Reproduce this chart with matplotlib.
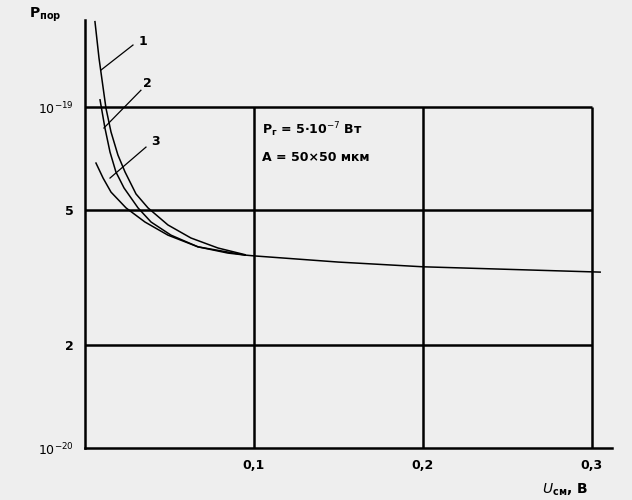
import matplotlib
matplotlib.use("Agg")
import matplotlib.pyplot as plt

# curves (U in V, P in W)
curve1_u = [0.0059, 0.0083, 0.0124, 0.0154, 0.0195, 0.0237, 0.0302,
            0.0373, 0.0491, 0.0627, 0.0787, 0.0947]
curve1_p = [1.78e-19, 1.39e-19, 9.93e-20, 8.45e-20, 7.23e-20, 6.45e-20, 5.56e-20,
            5.06e-20, 4.51e-20, 4.13e-20, 3.86e-20, 3.69e-20]
curve2_u = [0.0089, 0.0118, 0.0148, 0.0183, 0.0231, 0.0314, 0.0391, 0.0509,
            0.0669, 0.0846, 0.0947]
curve2_p = [1.05e-19, 8.68e-20, 7.38e-20, 6.45e-20, 5.79e-20, 5.06e-20, 4.60e-20, 4.21e-20,
            3.89e-20, 3.73e-20, 3.68e-20]
curve3_u = [0.0065, 0.0107, 0.0154, 0.0243, 0.0355, 0.0491, 0.0669, 0.0947]
curve3_p = [6.85e-20, 6.19e-20, 5.63e-20, 5.06e-20, 4.60e-20, 4.21e-20, 3.89e-20, 3.68e-20]
tail_u = [0.0947, 0.100, 0.150, 0.200, 0.305]
tail_p = [3.68e-20, 3.66e-20, 3.51e-20, 3.40e-20, 3.28e-20]

x_ticks = [0.1, 0.2, 0.3]
x_labels = ["0,1", "0,2", "0,3"]
y_ticks = [1e-20, 2e-20, 5e-20, 1e-19]
y_labels = ["$10^{-20}$", "2", "5", "$10^{-19}$"]

bg = "#eeeeee"
fig = plt.figure(figsize=(6.32, 5), dpi=100, facecolor=bg)
ax = fig.add_axes([85 / 632, 52 / 500, 527 / 632, 428 / 500], facecolor=bg)
ax.set_yscale("log")
ax.set_xlim(0, 0.312)
ax.set_ylim(1e-20, 1.8e-19)

for s in ["top", "right"]:
    ax.spines[s].set_visible(False)
for s in ["left", "bottom"]:
    ax.spines[s].set_linewidth(1.8)

# grid, bounded by 1e-19 and 0.3
ax.hlines(y_ticks[1:], 0, 0.3, colors="black", lw=1.8)
ax.vlines(x_ticks, 1e-20, 1e-19, colors="black", lw=1.8)

for u, p in [(curve1_u, curve1_p), (curve2_u, curve2_p), (curve3_u, curve3_p)]:
    ax.plot(u, p, color="black", lw=1.1, solid_joinstyle="round")
ax.plot(tail_u, tail_p, color="black", lw=1.1)

ax.set_xticks(x_ticks, x_labels)
ax.set_yticks(y_ticks, y_labels)
ax.minorticks_off()
ax.tick_params(length=0, labelsize=9, pad=8)
for t in ax.get_xticklabels() + ax.get_yticklabels():
    t.set_fontweight("bold")

# curve numbers with leader lines
leaders = [("1", (0.0095, 1.284e-19), (0.0284, 1.52e-19), (0.0320, 1.56e-19)),
           ("2", (0.0112, 8.68e-20), (0.0331, 1.12e-19), (0.0345, 1.17e-19)),
           ("3", (0.0148, 6.19e-20), (0.0361, 7.63e-20), (0.0390, 7.90e-20))]
for num, a, b, t in leaders:
    ax.plot([a[0], b[0]], [a[1], b[1]], color="black", lw=0.9)
    ax.text(t[0], t[1], num, fontsize=9, fontweight="bold", ha="left", va="center")

ax.text(0.105, 8.57e-20, "P$_\\mathregular{г}$ = 5·10$^{-7}$ Вт",
        fontsize=9, fontweight="bold", va="center")
ax.text(0.105, 7.09e-20, "A = 50×50 мкм", fontsize=9, fontweight="bold", va="center")

fig.text(45 / 632, 1 - 15 / 500, "P$_\\mathregular{пор}$", fontsize=10,
         fontweight="bold", ha="center", va="center")
fig.text(565 / 632, 1 - 490 / 500, "$U$$_\\mathregular{см}$, В", fontsize=10,
         fontweight="bold", ha="center", va="center")

fig.savefig("out.png", dpi=100, facecolor=bg)
